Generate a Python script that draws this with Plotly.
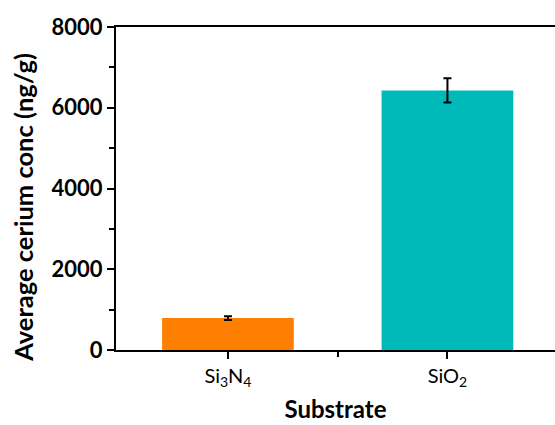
import plotly.graph_objects as go

categories = ["Si<sub>3</sub>N<sub>4</sub>", "SiO<sub>2</sub>"]
positions = [1, 2]
values = [790, 6430]
errors = [45, 300]
colors = ["#FF8000", "#00B9B9"]
y_ticks = [0, 2000, 4000, 6000, 8000]

fig = go.Figure()
fig.add_trace(go.Bar(
    x=positions, y=values, width=0.6,
    marker=dict(color=colors, line=dict(width=0)),
    error_y=dict(type="data", array=errors, visible=True, color="black", thickness=2, width=4),
))

font_family = "Lato, 'Open Sans', sans-serif"
fig.update_layout(
    width=555, height=425,
    margin=dict(l=116, r=0, t=27, b=75),
    plot_bgcolor="white", paper_bgcolor="white",
    showlegend=False,
    font=dict(family=font_family, color="black"),
)
fig.update_xaxes(
    range=[0.49, 2.49],
    tickmode="array", tickvals=positions, ticktext=categories,
    ticks="outside", ticklen=7, tickwidth=2, tickcolor="black",
    minor=dict(tickvals=[1.5], ticks="outside", ticklen=5, tickwidth=2, tickcolor="black"),
    showline=True, linewidth=2, linecolor="black", mirror=True,
    showgrid=False, zeroline=False,
    tickfont=dict(size=20, family=font_family),
    title=dict(text="<b>Substrate</b>", font=dict(size=24, family=font_family), standoff=12),
)
fig.update_yaxes(
    range=[0, 8000],
    tickmode="array", tickvals=y_ticks, ticktext=[f"<b>{v}</b>" for v in y_ticks],
    ticks="outside", ticklen=7, tickwidth=2, tickcolor="black",
    minor=dict(tickvals=[1000, 3000, 5000, 7000], ticks="outside", ticklen=5, tickwidth=2, tickcolor="black"),
    showline=True, linewidth=2, linecolor="black",
    showgrid=False, zeroline=False,
    tickfont=dict(size=22, family=font_family),
)
fig.add_annotation(
    text="<b>Average cerium conc (ng/g)</b>",
    xref="paper", yref="paper", x=-0.212, y=0.443,
    xanchor="center", yanchor="middle", textangle=-90, showarrow=False,
    font=dict(size=25.5, family=font_family, color="black"),
)

fig.write_html("out.html")
